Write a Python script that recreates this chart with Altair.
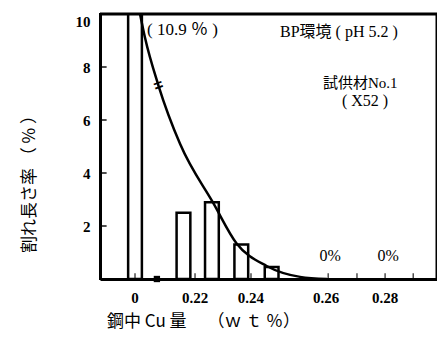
import altair as alt
import pandas as pd

# ---- data ----
bar_cu = [0.0, 0.0155, 0.0246, 0.034, 0.0437]
bar_rate = [10.9, 2.5, 2.9, 1.3, 0.45]

blob_cu = [0.007]
blob_rate = [0.0]

curve_cu = [0.0016, 0.0032, 0.0075, 0.0144, 0.0251, 0.0325, 0.0421, 0.0528, 0.0614]
curve_rate = [10.0, 9.1, 7.3, 5.1, 2.85, 1.34, 0.49, 0.08, 0.0]

tick_cu = [0.0, 0.0192, 0.0371, 0.0611, 0.08]
tick_labels = ["0", "0.22", "0.24", "0.26", "0.28"]
minor_tick_cu = [0.0, 0.0192, 0.0371, 0.0618, 0.071, 0.08, 0.089]
y_ticks = [2, 4, 6, 8, 10]

zero_cu = [0.0624, 0.081]
zero_rate = [0.85, 0.85]
zero_labels = ["0%", "0%"]

X_DOMAIN = [-0.0112, 0.0966]
Y_DOMAIN = [0, 10]
SERIF = "Liberation Serif, Noto Sans CJK JP"
CJK = "Noto Sans CJK JP"
W, H = 337, 265

bars = pd.DataFrame({"cu": bar_cu, "rate": bar_rate})
blob = pd.DataFrame({"cu": blob_cu, "rate": blob_rate})
curve = pd.DataFrame({"cu": curve_cu, "rate": curve_rate})
ticks = pd.DataFrame({"cu": tick_cu, "label": tick_labels})
xt = pd.DataFrame({"cu": minor_tick_cu, "rate": [0.1] * len(minor_tick_cu)})
yt = pd.DataFrame({"rate": y_ticks[:-1], "cu": [X_DOMAIN[0] + 0.001] * (len(y_ticks) - 1)})
zeros = pd.DataFrame({"cu": zero_cu, "rate": zero_rate, "label": zero_labels})
frame_df = pd.DataFrame({"cu": [X_DOMAIN[0], X_DOMAIN[1], X_DOMAIN[1]],
                         "rate": [Y_DOMAIN[1], Y_DOMAIN[1], Y_DOMAIN[0]],
                         "o": [0, 1, 2]})

xs = alt.Scale(domain=X_DOMAIN, nice=False, zero=False)
ys = alt.Scale(domain=Y_DOMAIN, nice=False)

y_enc = alt.Y("rate:Q", scale=ys, axis=alt.Axis(values=y_ticks, ticks=False, grid=False, title=None,
                                                 labelFont="Liberation Serif", labelFontWeight="bold",
                                                 labelFontSize=15, labelColor="black", labelPadding=10,
                                                 labelFlush=True, labelFlushOffset=0,
                                                 domainColor="black", domainWidth=3))

HALF = 0.0022
bar_layer = alt.Chart(bars).transform_calculate(
    x1=f"datum.cu - {HALF}", x2=f"datum.cu + {HALF}"
).mark_rect(fill="white", stroke="black", strokeWidth=2.5, clip=True).encode(
    x=alt.X("x1:Q", scale=xs, axis=alt.Axis(labels=False, ticks=False, title=None, grid=False,
                                              domainColor="black", domainWidth=3)),
    x2="x2:Q",
    y=y_enc,
    y2=alt.datum(0),
)

blob_layer = alt.Chart(blob).mark_square(color="black", size=40, opacity=1).encode(
    x=alt.X("cu:Q", scale=xs), y=alt.Y("rate:Q", scale=ys)
)

curve_layer = alt.Chart(curve).mark_line(color="black", strokeWidth=2.5, interpolate="monotone").encode(
    x=alt.X("cu:Q", scale=xs), y=alt.Y("rate:Q", scale=ys)
)

frame_layer = alt.Chart(frame_df).mark_line(color="black", strokeWidth=3).encode(
    x=alt.X("cu:Q", scale=xs), y=alt.Y("rate:Q", scale=ys), order="o:Q"
)

break_mark = alt.Chart(pd.DataFrame({"cu": [0.0075], "rate": [7.3]})).mark_text(
    text="=", fontSize=16, fontWeight="bold", angle=340, color="black"
).encode(x=alt.X("cu:Q", scale=xs), y=alt.Y("rate:Q", scale=ys))

y_inticks = alt.Chart(yt).mark_tick(color="black", thickness=2, size=7, orient="horizontal").encode(
    x=alt.X("cu:Q", scale=xs), y=alt.Y("rate:Q", scale=ys)
)
x_inticks = alt.Chart(xt).mark_tick(color="black", thickness=1.5, size=6, orient="vertical").encode(
    x=alt.X("cu:Q", scale=xs), y=alt.Y("rate:Q", scale=ys)
)

x_labels = alt.Chart(ticks).mark_text(font="Liberation Serif", fontWeight="bold", fontSize=15,
                                      color="black", baseline="middle").encode(
    x=alt.X("cu:Q", scale=xs), y=alt.value(284), text="label:N"
)

zero_text = alt.Chart(zeros).mark_text(font="Liberation Serif", fontSize=16, color="black",
                                       baseline="middle").encode(
    x=alt.X("cu:Q", scale=xs), y=alt.Y("rate:Q", scale=ys), text="label:N"
)

def note(txt, x, y, size=15, align="left", font=SERIF, angle=0, weight="normal"):
    return alt.Chart(pd.DataFrame({"t": [txt]})).mark_text(
        font=font, fontSize=size, align=align, baseline="middle", color="black",
        angle=angle, fontWeight=weight
    ).encode(x=alt.value(x), y=alt.value(y), text="t:N")

notes = [
    note("( 10.9 ％ )", 47, 16, size=17),
    note("BP環境 (  pH 5.2  )", 180, 18, size=16),
    note("試供材No.1", 223, 69, size=15),
    note("( X52 )", 265, 87, size=16, align="center"),
    note("割れ長さ率 （ % ）", -70, 166, size=17, align="center", font=CJK, angle=270),
    note("鋼中 Cu 量　 （ｗ ｔ ％）", 7, 308, size=17, align="left", font=CJK),
]

chart = alt.layer(
    bar_layer, blob_layer, curve_layer, frame_layer, break_mark, y_inticks, x_inticks,
    x_labels, zero_text, *notes
).properties(
    width=W, height=H,
    autosize=alt.AutoSizeParams(type="none"),
    padding={"left": 92, "top": 6, "right": 0, "bottom": 54},
    background="white",
).configure_view(stroke="black", strokeWidth=2)

chart.save("out.html", embed_options={"renderer": "svg", "actions": False})
